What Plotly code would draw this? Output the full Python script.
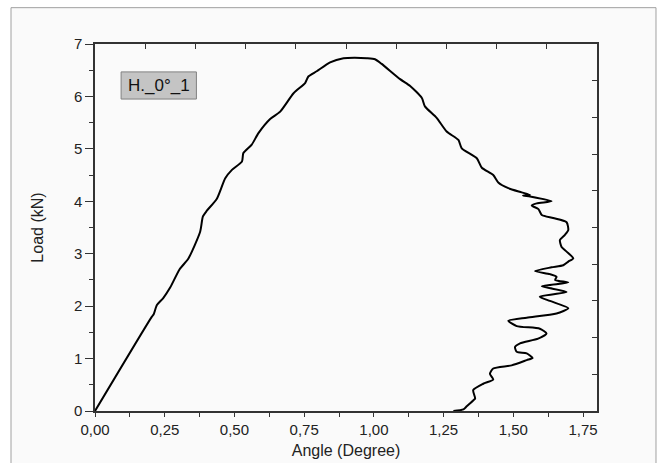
import plotly.graph_objects as go

angle = [0.000, 0.204, 0.210, 0.222, 0.244, 0.270, 0.303, 0.335, 0.377, 0.387, 0.401, 0.437,
         0.467, 0.491, 0.527, 0.532, 0.562, 0.586, 0.628, 0.664, 0.712, 0.754, 0.765, 0.795,
         0.843, 0.891, 0.930, 0.975, 1.004, 1.028, 1.094, 1.130, 1.172, 1.183, 1.225, 1.261,
         1.303, 1.315, 1.369, 1.387, 1.428, 1.446, 1.482, 1.530, 1.560, 1.535, 1.560, 1.637,
         1.584, 1.566, 1.590, 1.602, 1.643, 1.691, 1.697, 1.685, 1.667, 1.673, 1.691, 1.715,
         1.697, 1.679, 1.637, 1.578, 1.631, 1.655, 1.650, 1.697, 1.602, 1.691, 1.595, 1.631,
         1.697, 1.655, 1.548, 1.482, 1.512, 1.595, 1.619, 1.589, 1.524, 1.506, 1.512, 1.548,
         1.569, 1.548, 1.494, 1.428, 1.416, 1.428, 1.392, 1.356, 1.363, 1.356, 1.333, 1.321,
         1.285]
load = [0.00, 1.80, 1.84, 2.02, 2.15, 2.36, 2.70, 2.91, 3.42, 3.71, 3.82, 4.05,
        4.44, 4.60, 4.76, 4.92, 5.08, 5.30, 5.57, 5.71, 6.06, 6.26, 6.38, 6.48,
        6.65, 6.73, 6.74, 6.73, 6.71, 6.62, 6.33, 6.20, 5.97, 5.81, 5.59, 5.33,
        5.17, 5.01, 4.82, 4.64, 4.50, 4.36, 4.25, 4.17, 4.12, 4.11, 4.09, 4.00,
        3.96, 3.92, 3.85, 3.74, 3.68, 3.60, 3.45, 3.36, 3.26, 3.13, 3.04, 2.91,
        2.85, 2.78, 2.74, 2.67, 2.61, 2.56, 2.50, 2.45, 2.38, 2.27, 2.18, 2.10,
        1.96, 1.86, 1.78, 1.72, 1.62, 1.57, 1.48, 1.38, 1.29, 1.22, 1.13, 1.10,
        1.01, 0.97, 0.87, 0.81, 0.71, 0.60, 0.52, 0.40, 0.24, 0.20, 0.09, 0.03,
        0.00]

x_ticks = [0, 0.25, 0.5, 0.75, 1.0, 1.25, 1.5, 1.75]
y_ticks = [0, 1, 2, 3, 4, 5, 6, 7]
top_ticks = [i * 0.18 for i in range(11)]
right_ticks = [i * 0.7 for i in range(11)]
legend_label = "H._0°_1"
x_title = "Angle (Degree)"
y_title = "Load (kN)"

FONT = "Liberation Sans, Arial, sans-serif"
AX = "#333333"

fig = go.Figure()
fig.add_trace(go.Scatter(x=angle, y=load, mode="lines",
                         line=dict(color="black", width=2, shape="spline", smoothing=0.6),
                         showlegend=False, hoverinfo="skip"))
# invisible trace for top/right tick axes
fig.add_trace(go.Scatter(x=[0], y=[0], xaxis="x2", yaxis="y2", mode="markers",
                         marker=dict(opacity=0), showlegend=False, hoverinfo="skip"))

fig.update_layout(
    width=662, height=463,
    margin=dict(l=95, r=65, t=44, b=52),
    paper_bgcolor="white",
    plot_bgcolor="#fafafa",
    separators=",.",
    font=dict(family=FONT, size=15, color="#222222"),
    showlegend=False,
    xaxis=dict(range=[0, 1.8], tickvals=x_ticks, tickformat=".2f",
               ticks="outside", ticklen=4, tickwidth=1.2, tickcolor=AX,
               minor=dict(dtick=0.125, ticks="outside", ticklen=4, tickwidth=1, tickcolor=AX),
               showline=True, linecolor=AX, linewidth=1.5, mirror=True,
               showgrid=False, zeroline=False, automargin=False,
               tickfont=dict(size=15),
               title=dict(text=x_title, font=dict(size=16), standoff=8)),
    yaxis=dict(range=[0, 7], tickvals=y_ticks,
               ticks="outside", ticklen=8, tickwidth=1.2, tickcolor=AX,
               minor=dict(dtick=0.5, ticks="outside", ticklen=4, tickwidth=1, tickcolor=AX),
               showline=True, linecolor=AX, linewidth=1.5, mirror=True,
               showgrid=False, zeroline=False, automargin=False,
               tickfont=dict(size=15),
               title=dict(text=y_title, font=dict(size=16), standoff=26)),
    xaxis2=dict(range=[0, 1.8], overlaying="x", side="top", anchor="y",
                tickvals=top_ticks, ticks="inside", ticklen=5, tickwidth=1.2,
                tickcolor=AX, showticklabels=False, showgrid=False, zeroline=False,
                showline=False, automargin=False),
    yaxis2=dict(range=[0, 7], overlaying="y", side="right", anchor="x",
                tickvals=right_ticks, ticks="inside", ticklen=5, tickwidth=1.2,
                tickcolor=AX, showticklabels=False, showgrid=False, zeroline=False,
                showline=False, automargin=False),
    shapes=[
        dict(type="rect", xref="paper", yref="paper", x0=-0.1673, x1=1.1175, y0=-0.25, y1=1.099,
             line=dict(color="#a0a0a0", width=1), fillcolor="#fafafa", layer="below"),
        dict(type="rect", xref="paper", yref="paper", x0=0.052, x1=0.202, y0=0.85, y1=0.924,
             line=dict(color="#808080", width=1), fillcolor="#c4c4c4", layer="above"),
    ],
    annotations=[
        dict(text=legend_label, xref="paper", yref="paper", x=0.127, y=0.887,
             xanchor="center", yanchor="middle", showarrow=False,
             font=dict(size=17, color="#111111", family=FONT)),
    ],
)

fig.write_html("out.html")
